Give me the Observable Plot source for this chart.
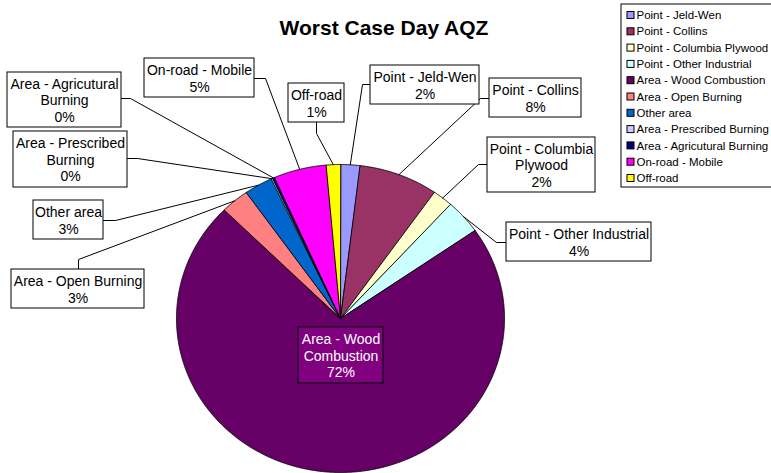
<!DOCTYPE html>
<html>
<head>
<meta charset="utf-8">
<script src="https://cdn.jsdelivr.net/npm/d3@7"></script>
<script src="https://cdn.jsdelivr.net/npm/@observablehq/plot@0.6"></script>
<style>
  html, body { margin: 0; padding: 0; background: #fff; }
  #chart svg { display: block; }
</style>
</head>
<body>
<div id="chart"></div>
<script>
// ---- data ----
const title = "Worst Case Day AQZ";
const categories = [
  "Point - Jeld-Wen", "Point - Collins", "Point - Columbia Plywood", "Point - Other Industrial",
  "Area - Wood Combustion", "Area - Open Burning", "Other area", "Area - Prescribed Burning",
  "Area - Agricutural Burning", "On-road - Mobile", "Off-road"
];
const shares = [1.9, 7.8, 2.0, 3.6, 72.1, 2.8, 2.8, 0.15, 0.2, 5.2, 1.4];
const boxText = [
  "Point - Jeld-Wen", "Point - Collins", "Point - Columbia\nPlywood", "Point - Other Industrial",
  "Area - Wood\nCombustion", "Area - Open Burning", "Other area", "Area - Prescribed\nBurning",
  "Area - Agricutural\nBurning", "On-road - Mobile", "Off-road"
];

// ---- styles ----
const colors = ["#9999FF", "#993366", "#FFFFCC", "#CCFFFF", "#660066", "#FF8080",
  "#0066CC", "#CCCCFF", "#000080", "#FF00FF", "#FFFF00"];

// ---- layout (pixels) ----
const pie = {cx: 340, cy: 318, rx: 164, ry: 154};
// label boxes [x1,y1,x2,y2] and leader elbow points from box toward the slice
const boxes = [
  {b: [370, 65, 479, 104], path: [[370, 84], [362, 84]]},
  {b: [489, 78, 581, 117], path: [[489, 98], [480, 98]]},
  {b: [487, 137, 595, 192], path: [[487, 164], [478, 164]]},
  {b: [506, 222, 651, 261], path: [[506, 242], [496, 242]]},
  {b: [298, 327, 383, 383], path: null, fill: "#800080", color: "white"},
  {b: [11, 269, 144, 308], path: [[78, 269], [78, 259]]},
  {b: [33, 200, 103, 239], path: [[103, 220], [115, 220]]},
  {b: [13, 131, 127, 187], path: [[127, 158], [137, 158]]},
  {b: [7, 72, 121, 127], path: [[121, 98], [130, 98]]},
  {b: [144, 58, 254, 97], path: [[254, 78], [265, 78]]},
  {b: [288, 83, 344, 122], path: [[316, 122], [316, 133]]}
];
const legend = {x1: 621, y1: 4, x2: 773, y2: 187, row0: 15, step: 16.3, sw: 627, tx: 636};

// ---- geometry from data ----
const total = d3.sum(shares);
const pct = d3.format(".0%");
let acc = 0;
const slices = shares.map((v, i) => {
  const a0 = acc / total * 360;
  acc += v;
  const a1 = acc / total * 360;
  return {i, a0, a1, mid: (a0 + a1) / 2};
});
const pt = (deg) => {
  const t = deg * Math.PI / 180;
  return {x: pie.cx + pie.rx * Math.sin(t), y: pie.cy - pie.ry * Math.cos(t)};
};
function slicePoints(s) {
  const pts = [{x: pie.cx, y: pie.cy}];
  const n = Math.max(2, Math.ceil((s.a1 - s.a0) / 0.25));
  for (let k = 0; k <= n; k++) pts.push(pt(s.a0 + (s.a1 - s.a0) * k / n));
  return pts;
}

const marks = [];
// slices
slices.forEach(s => {
  marks.push(Plot.line(slicePoints(s), {x: "x", y: "y", curve: "linear-closed",
    fill: colors[s.i], stroke: "black", strokeWidth: 0.9}));
});
// leader lines
slices.forEach(s => {
  const L = boxes[s.i];
  if (!L.path) return;
  const pts = L.path.map(([x, y]) => ({x, y})).concat([pt(s.mid)]);
  marks.push(Plot.line(pts, {x: "x", y: "y", stroke: "black", strokeWidth: 1}));
});
// label boxes and text
const labelRows = slices.map(s => {
  const L = boxes[s.i];
  return {x1: L.b[0], y1: L.b[1], x2: L.b[2], y2: L.b[3],
    cx: (L.b[0] + L.b[2]) / 2, cy: (L.b[1] + L.b[3]) / 2,
    fill: L.fill || "white", color: L.color || "black",
    text: boxText[s.i] + "\n" + pct(shares[s.i] / total)};
});
marks.push(Plot.rect(labelRows, {x1: "x1", x2: "x2", y1: "y1", y2: "y2",
  fill: d => d.fill, stroke: "black", strokeWidth: 1}));
marks.push(Plot.text(labelRows, {x: "cx", y: "cy", text: "text", fill: d => d.color,
  fontSize: 14, lineHeight: 1.18}));
// title
marks.push(Plot.text([title], {x: () => 383.5, y: () => 27.5, text: d => d,
  fontSize: 21, fontWeight: "bold", fill: "black"}));
// legend
marks.push(Plot.rect([legend], {x1: "x1", x2: "x2", y1: "y1", y2: "y2", fill: "white", stroke: "black", strokeWidth: 1}));
const legendRows = categories.map((c, i) => ({name: c, color: colors[i], y: legend.row0 + i * legend.step}));
marks.push(Plot.rect(legendRows, {x1: () => legend.sw, x2: () => legend.sw + 7,
  y1: d => d.y - 3.5, y2: d => d.y + 3.5, fill: d => d.color, stroke: "black", strokeWidth: 1}));
marks.push(Plot.text(legendRows, {x: () => legend.tx, y: "y", text: "name", textAnchor: "start",
  fontSize: 11.5, fill: "black"}));

const chart = Plot.plot({
  width: 771, height: 473, margin: 0,
  style: {fontFamily: "'Liberation Sans', Arial, sans-serif", background: "white", overflow: "hidden"},
  x: {type: "linear", domain: [0, 771], range: [0, 771], axis: null},
  y: {type: "linear", domain: [0, 473], range: [0, 473], axis: null},
  color: {type: "identity"},
  marks
});
document.getElementById("chart").appendChild(chart);
</script>
</body>
</html>
